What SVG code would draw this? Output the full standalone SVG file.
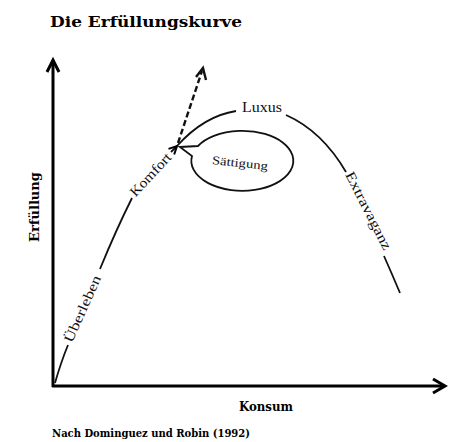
<svg xmlns="http://www.w3.org/2000/svg" width="453" height="442" viewBox="0 0 453 442">
<defs>
<style>
.lbl{font-family:"Liberation Serif",serif;fill:#111;}
.bold{font-family:"DejaVu Serif","Liberation Serif",serif;font-weight:bold;fill:#000;}
.axis{stroke:#000;stroke-width:3;fill:none;}
.curve{stroke:#111;stroke-width:1.8;fill:none;}
</style>
<marker id="ah" viewBox="0 0 10 10" refX="9" refY="5" markerWidth="10" markerHeight="10" orient="auto" markerUnits="userSpaceOnUse">
<path d="M1,1 L9,5 L1,9" fill="none" stroke="#000" stroke-width="2"/>
</marker>
</defs>
<g id="title"><text class="bold" x="50" y="27" font-size="15" textLength="192" lengthAdjust="spacingAndGlyphs">Die Erfüllungskurve</text></g>
<g id="axes">
<path class="axis" d="M53,387 L53,60"/>
<path class="axis" d="M47,72 L53,60 L59,72" stroke-width="2.5"/>
<path class="axis" d="M52,386 L444,386"/>
<path class="axis" d="M433,379 L445,386 L433,393" stroke-width="2.5"/>
<text class="bold" transform="translate(39,207) rotate(-90)" text-anchor="middle" font-size="12" textLength="70" lengthAdjust="spacingAndGlyphs">Erfüllung</text>
<text class="bold" x="266" y="411" text-anchor="middle" font-size="12" textLength="54" lengthAdjust="spacingAndGlyphs">Konsum</text>
<text class="bold" x="52" y="437" font-size="11" font-weight="normal" textLength="198" lengthAdjust="spacingAndGlyphs">Nach Dominguez und Robin (1992)</text>
</g>
<g id="saettigung">
<path d="M180,147 L198,146 A51,30 0 1 1 192,156 Z" fill="#fff" stroke="#111" stroke-width="1.8" stroke-linejoin="miter"/>
<text class="lbl" transform="translate(240,163) rotate(6)" text-anchor="middle" dy="4" font-size="12" textLength="56" lengthAdjust="spacingAndGlyphs">Sättigung</text>
</g>
<g id="connectors">
<path class="curve" d="M55,383 Q61,362 68,345"/>
<path class="curve" d="M100,269 Q116,230 132,198"/>
<path class="curve" d="M236,111 Q204,116 177,146"/>
<path class="curve" d="M171,152 L177,146" marker-end="url(#ah)"/>
<path class="curve" d="M286,115 Q322,131 346,172"/>
<path class="curve" d="M384,256 Q392,274 400,293"/>
<path d="M178,143 L202,71" stroke="#111" stroke-width="2.4" stroke-dasharray="6,3" fill="none"/>
<path d="M196,77 L203,68 L206,80" stroke="#111" stroke-width="2.4" fill="none"/>
</g>
<g id="ueberleben"><text class="lbl" transform="translate(83,309) rotate(-66)" text-anchor="middle" dy="4" font-size="14" textLength="72" lengthAdjust="spacingAndGlyphs">Überleben</text></g>
<g id="komfort"><text class="lbl" transform="translate(151,175) rotate(-47)" text-anchor="middle" dy="4" font-size="14" textLength="54" lengthAdjust="spacingAndGlyphs">Komfort</text></g>
<g id="luxus"><text class="lbl" x="262" y="112" text-anchor="middle" font-size="14" textLength="40" lengthAdjust="spacingAndGlyphs">Luxus</text></g>
<g id="extravaganz"><text class="lbl" transform="translate(368,211) rotate(63)" text-anchor="middle" dy="4" font-size="14" textLength="86" lengthAdjust="spacingAndGlyphs">Extravaganz</text></g>
</svg>
